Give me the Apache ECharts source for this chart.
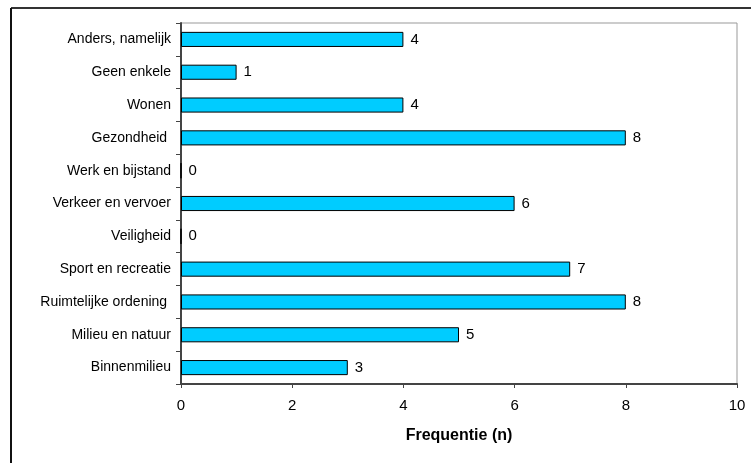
<!DOCTYPE html>
<html><head><meta charset="utf-8">
<script src="https://cdn.jsdelivr.net/npm/echarts@6/dist/echarts.min.js"></script>
<style>html,body{margin:0;padding:0;background:#fff}#c{width:751px;height:463px}</style>
</head><body><div id="c"></div>
<script>
const categories = ["Binnenmilieu","Milieu en natuur","Ruimtelijke ordening ","Sport en recreatie","Veiligheid","Verkeer en vervoer","Werk en bijstand","Gezondheid ","Wonen","Geen enkele","Anders, namelijk"];
const values = [3,5,8,7,0,6,0,8,4,1,4];
const xTicks = [0,2,4,6,8,10];
const chart = echarts.init(document.getElementById('c'));
chart.setOption({
  animation:false,
  textStyle:{fontFamily:'Liberation Sans, Arial, sans-serif'},
  graphic:[
    {type:'line',shape:{x1:11,y1:8,x2:751,y2:8},style:{stroke:'#333',lineWidth:2}},
    {type:'line',shape:{x1:11,y1:8,x2:11,y2:463},style:{stroke:'#111',lineWidth:2}}
  ],
  grid:{left:181,top:23,right:14,bottom:79,show:true,borderColor:'#999',borderWidth:1},
  xAxis:{type:'value',min:0,max:10,interval:2,
    name:'Frequentie (n)',nameLocation:'middle',nameGap:44,
    nameTextStyle:{fontWeight:'bold',fontSize:16,color:'#000',fontFamily:'Liberation Sans'},
    axisLine:{show:true,lineStyle:{color:'#444',width:2}},
    axisTick:{show:true,length:4,lineStyle:{color:'#444'}},
    axisLabel:{fontSize:15,color:'#000',margin:14,formatter:v=>xTicks.includes(v)?String(v):''},
    splitLine:{show:false}},
  yAxis:{type:'category',data:categories,
    axisLine:{show:true,lineStyle:{color:'#444',width:2}},
    axisTick:{show:true,length:5,lineStyle:{color:'#444'}},
    axisLabel:{fontSize:14,color:'#000',margin:10}},
  series:[{type:'bar',data:values,barWidth:'46%',
    itemStyle:{color:'#00CCFF',borderColor:'#000',borderWidth:1},
    label:{show:true,position:'right',distance:7,fontSize:15,color:'#000'}}]
});
</script></body></html>
